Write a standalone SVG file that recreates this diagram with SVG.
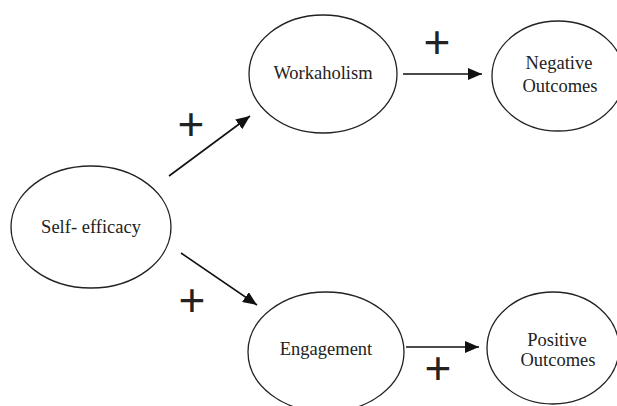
<svg xmlns="http://www.w3.org/2000/svg" width="617" height="406" viewBox="0 0 617 406">
<style>
.node ellipse{fill:#fff;stroke:#222;stroke-width:1.3}
.node text{font-family:"Liberation Serif","Times New Roman",serif;font-size:18.5px;fill:#222;text-anchor:middle}
.conn line{stroke:#111;stroke-width:1.6;marker-end:url(#ah)}
.sign{font-family:"Liberation Sans",Arial,sans-serif;font-size:46px;fill:#222;text-anchor:middle}
</style>
<defs>
<marker id="ah" markerUnits="userSpaceOnUse" markerWidth="14" markerHeight="12" viewBox="0 0 14 12" refX="14" refY="6" orient="auto">
<path d="M0,0 L14,6 L0,12 Z" fill="#111"/>
</marker>
</defs>
<rect width="617" height="406" fill="#fff"/>
<g id="self-efficacy" class="node">
<ellipse cx="91" cy="227" rx="80" ry="61"/>
<text x="91" y="233">Self- efficacy</text>
</g>
<g id="workaholism" class="node">
<ellipse cx="323" cy="74" rx="74" ry="59"/>
<text x="323" y="79">Workaholism</text>
</g>
<g id="negative-outcomes" class="node">
<ellipse cx="558" cy="76" rx="66" ry="55"/>
<text x="559" y="69">Negative</text>
<text x="560" y="92">Outcomes</text>
</g>
<g id="engagement" class="node">
<ellipse cx="326" cy="352" rx="78" ry="60"/>
<text x="326" y="355">Engagement</text>
</g>
<g id="positive-outcomes" class="node">
<ellipse cx="553" cy="348" rx="66" ry="56"/>
<text x="557" y="346">Positive</text>
<text x="558" y="366">Outcomes</text>
</g>
<g id="connectors" class="conn">
<line x1="169" y1="176" x2="250" y2="116"/>
<line x1="181" y1="253" x2="257" y2="305"/>
<line x1="403" y1="74" x2="482" y2="74"/>
<line x1="406" y1="347" x2="479" y2="347"/>
</g>
<g id="signs">
<text class="sign" x="191" y="140">+</text>
<text class="sign" x="192" y="316">+</text>
<text class="sign" x="437" y="58">+</text>
<text class="sign" x="438" y="384">+</text>
</g>
</svg>
